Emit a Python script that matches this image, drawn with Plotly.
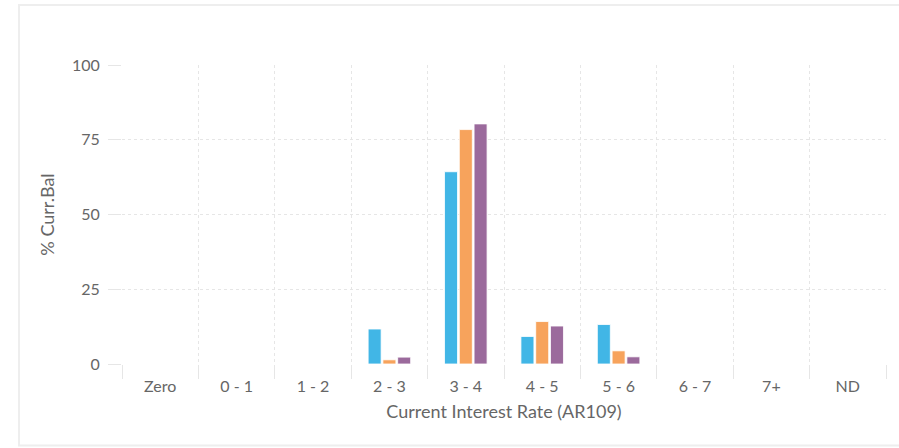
import plotly.graph_objects as go

categories = ["Zero", "0 - 1", "1 - 2", "2 - 3", "3 - 4", "4 - 5", "5 - 6", "6 - 7", "7+", "ND"]
series_a = [0, 0, 0, 11.7, 64.3, 9.2, 13.2, 0, 0, 0]
series_b = [0, 0, 0, 1.4, 78.4, 14.2, 4.4, 0, 0, 0]
series_c = [0, 0, 0, 2.3, 80.3, 12.7, 2.4, 0, 0, 0]
series_names = ["Series A", "Series B", "Series C"]
colors = ["#41b6e6", "#f7a35c", "#9b6a9c"]
y_ticks = [0, 25, 50, 75, 100]

fig = go.Figure()
for name, vals, col in zip(series_names, [series_a, series_b, series_c], colors):
    fig.add_trace(go.Bar(
        x=categories, y=vals, name=name,
        marker=dict(color=col, line=dict(color="rgba(255,255,255,0.8)", width=1)),
    ))

grid = "#e6e6e6"
fig.update_layout(
    width=899, height=448,
    margin=dict(l=122, r=13, t=65, b=84),
    paper_bgcolor="white", plot_bgcolor="white",
    barmode="group", bargap=0.42, bargroupgap=0.12,
    showlegend=False,
    font=dict(family="Lato, 'Open Sans', sans-serif", color="#666666", size=16),
    xaxis=dict(
        type="category", tickson="boundaries", ticks="outside", ticklen=14,
        tickcolor=grid, showgrid=True, gridcolor=grid, griddash="dot", gridwidth=1,
        showline=False, zeroline=False, automargin=False, ticklabelstandoff=11,
        tickfont=dict(size=16, color="#666666"),
        title=dict(text="Current Interest Rate (AR109)", font=dict(size=18, color="#666666"), standoff=11),
    ),
    yaxis=dict(
        range=[0, 100], tickvals=y_ticks, ticks="outside", ticklen=13, tickcolor=grid,
        showgrid=True, gridcolor=grid, griddash="dot", gridwidth=1,
        zeroline=False, showline=False, automargin=False, ticklabelstandoff=5,
        tickfont=dict(size=16, color="#666666"),
        title=dict(text="% Curr.Bal", font=dict(size=18, color="#666666"), standoff=12),
    ),
    shapes=[dict(
        type="rect", xref="paper", yref="paper",
        x0=(19 - 122) / 764, x1=(910 - 122) / 764,
        y0=(364 - 445.5) / 299, y1=(364 - 5) / 299,
        line=dict(color="#eeeeee", width=2), fillcolor="rgba(0,0,0,0)", layer="below",
    )],
)

fig.write_html(
    "out.html",
    config={"displayModeBar": False},
    post_script="document.body.style.margin='0';document.body.style.overflow='hidden';",
)
